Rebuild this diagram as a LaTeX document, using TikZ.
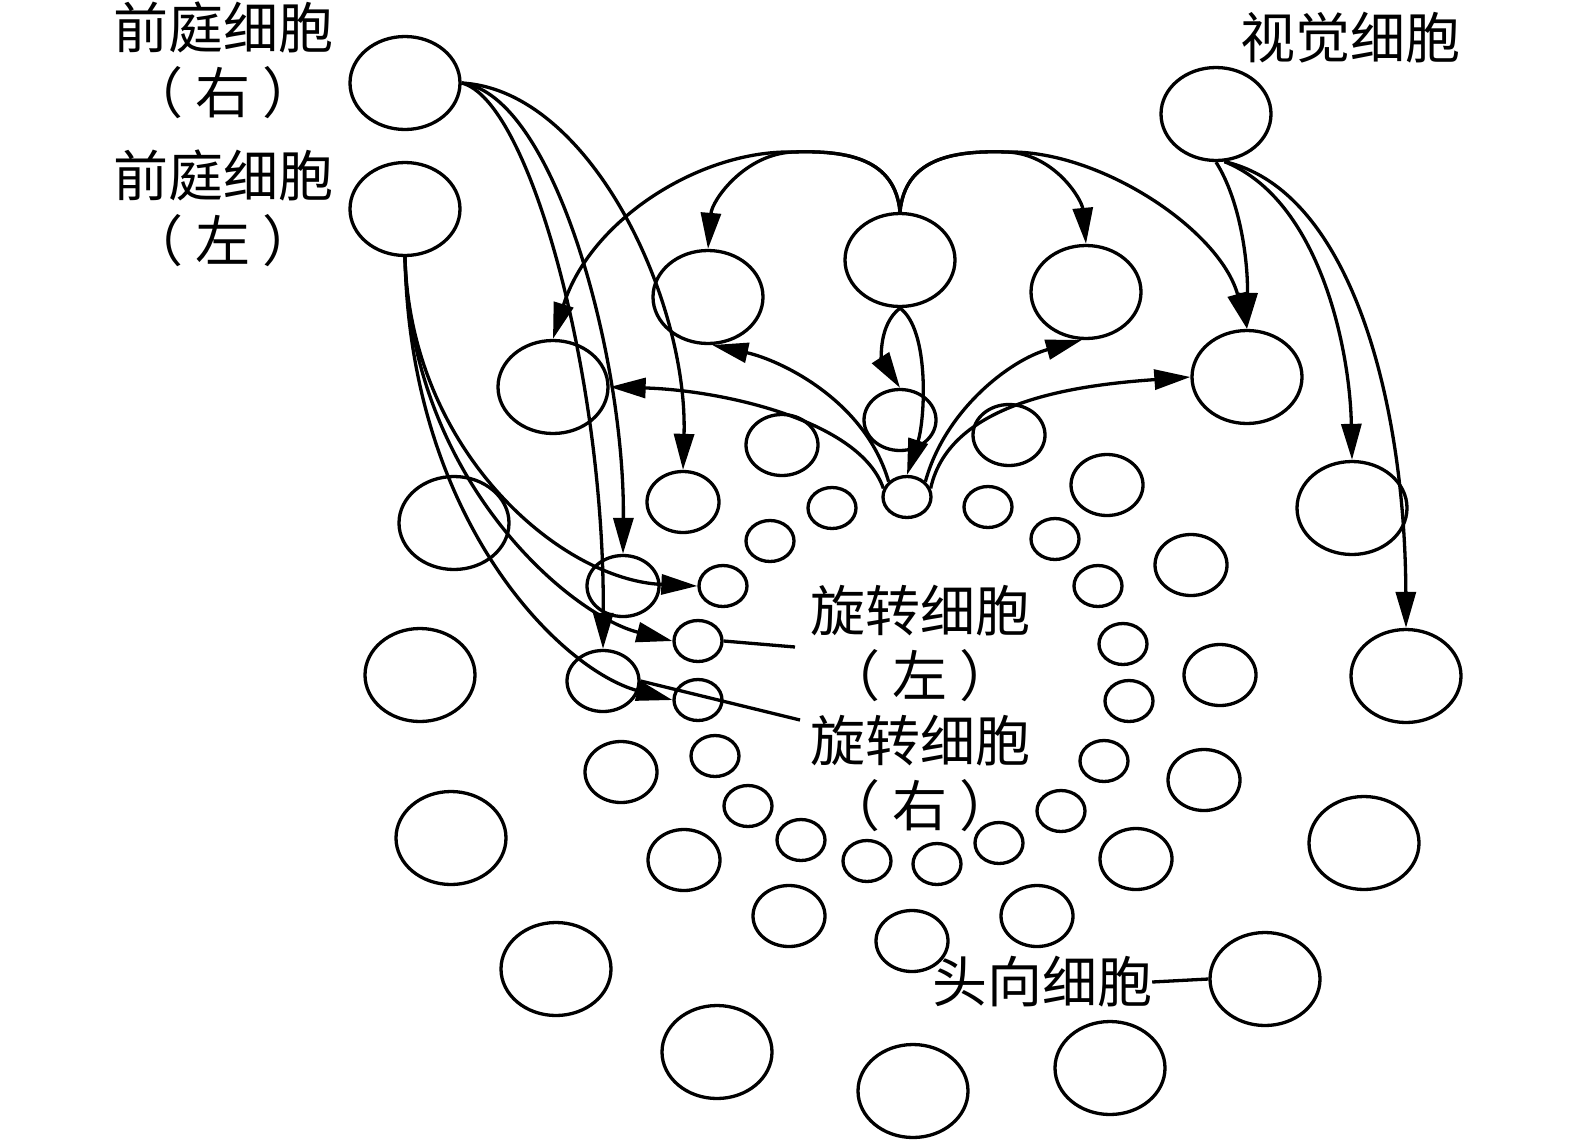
\documentclass[tikz,border=0pt]{standalone}
\usepackage{fontspec}
\newfontfamily\cjk{Noto Sans CJK SC}
\usetikzlibrary{shapes.geometric,arrows.meta}
\begin{document}
\begin{tikzpicture}[x=1pt,y=-1pt,
  cell/.style={ellipse,draw,line width=3.3pt,inner sep=0pt,minimum width=110pt,minimum height=93pt},
  mid/.style={cell,minimum width=72pt,minimum height=61pt},
  sml/.style={cell,minimum width=48pt,minimum height=41pt},
  lbl/.style={font=\cjk\fontsize{55}{65}\selectfont,align=center,inner sep=0pt},
  arr/.style={line width=3.3pt,-{Triangle[length=36pt,width=20pt]}},
  ln/.style={line width=3.3pt}]
\useasboundingbox (0,0) rectangle (1575,1141);
% big cells
\node[cell] (vr) at (405,83) {};
\node[cell] (vl) at (405,209) {};
\node[cell] (vis) at (1216,114) {};
\node[cell] (cb) at (900,260) {};
\node[cell] (b708) at (708,297) {};
\node[cell] (b1086) at (1086,292) {};
\node[cell] (b553) at (553,387) {};
\node[cell] (b1247) at (1247,377) {};
\node[cell] (b454) at (454,523) {};
\node[cell] (b420) at (420,675) {};
\node[cell] (b451) at (451,838) {};
\node[cell] (b556) at (556,969) {};
\node[cell] (b717) at (717,1052) {};
\node[cell] (b913) at (913,1091) {};
\node[cell] (b1110) at (1110,1068) {};
\node[cell] (b1265) at (1265,979) {};
\node[cell] (b1364) at (1364,843) {};
\node[cell] (b1406) at (1406,676) {};
\node[cell] (b1352) at (1352,508) {};
% medium cells
\node[mid] (m683) at (683,502) {};
\node[mid] (m623) at (623,586) {};
\node[mid] (m603) at (603,681) {};
\node[mid] (m621) at (621,772) {};
\node[mid] (m684) at (684,860) {};
\node[mid] (m789) at (789,916) {};
\node[mid] (m912) at (912,941) {};
\node[mid] (m1037) at (1037,916) {};
\node[mid] (m1136) at (1136,859) {};
\node[mid] (m1204) at (1204,780) {};
\node[mid] (m1220) at (1220,675) {};
\node[mid] (m1191) at (1191,565) {};
\node[mid] (m1107) at (1107,485) {};
\node[mid] (m1009) at (1009,435) {};
\node[mid] (m900) at (900,420) {};
\node[mid] (m782) at (782,445) {};
% small cells
\node[sml] (s770) at (770,541) {};
\node[sml] (s832) at (832,508) {};
\node[sml] (t907) at (907,497) {};
\node[sml] (s988) at (988,507) {};
\node[sml] (s1055) at (1055,539) {};
\node[sml] (s1098) at (1098,586) {};
\node[sml] (s1123) at (1123,644) {};
\node[sml] (s1129) at (1129,701) {};
\node[sml] (s1104) at (1104,761) {};
\node[sml] (s1061) at (1061,811) {};
\node[sml] (s999) at (999,843) {};
\node[sml] (s937) at (937,864) {};
\node[sml] (s867) at (867,861) {};
\node[sml] (s801) at (801,840) {};
\node[sml] (s748) at (748,806) {};
\node[sml] (s715) at (715,756) {};
\node[sml] (s698b) at (698,700) {};
\node[sml] (s698a) at (698,641) {};
\node[sml] (s723) at (723,586) {};
% labels
\node[lbl] (lvr) at (223,60) {前庭细胞\\（\hspace{12pt}右\hspace{12pt}）};
\node[lbl] (lvl) at (223,208) {前庭细胞\\（\hspace{12pt}左\hspace{12pt}）};
\node[lbl] (lvis) at (1350,38) {视觉细胞};
\node[lbl] (lrl) at (920,643) {旋转细胞\\（\hspace{12pt}左\hspace{12pt}）};
\node[lbl] (lrr) at (920,773) {旋转细胞\\（\hspace{12pt}右\hspace{12pt}）};
\node[lbl] (hx) at (1042,982) {头向细胞};
% vestibular right
\draw[arr] (vr.east) .. controls (590,90) and (688,300) .. (m683.north);
\draw[arr] (vr.east) .. controls (555,95) and (625,360) .. (m623.north);
\draw[arr] (vr.east) .. controls (530,100) and (605,380) .. (m603.north);
% vestibular left
\draw[arr] (vl.south) .. controls (410,450) and (560,580) .. (s723.west);
\draw[arr] (vl.south) .. controls (410,480) and (570,615) .. (s698a.west);
\draw[arr] (vl.south) .. controls (410,520) and (560,670) .. (s698b.west);
% visual
\draw[arr] (vis.south) .. controls (1240,200) and (1248,260) .. (b1247.north);
\draw[arr] (vis.-80) .. controls (1320,200) and (1350,350) .. (b1352.north);
\draw[arr] (vis.-80) .. controls (1350,190) and (1405,400) .. (b1406.north);
% arches from the centre cell
\draw[arr] (cb.north) .. controls (895,160) and (850,150) .. (793,152) .. controls (745,154) and (712,200) .. (b708.north);
\draw[arr] (cb.north) .. controls (895,160) and (850,150) .. (793,152) .. controls (700,150) and (590,220) .. (b553.north);
\draw[arr] (cb.north) .. controls (905,160) and (950,150) .. (1007,152) .. controls (1055,154) and (1082,200) .. (b1086.north);
\draw[arr] (cb.north) .. controls (905,160) and (950,150) .. (1007,152) .. controls (1100,150) and (1220,230) .. (b1247.north);
\draw[arr] (cb.south) .. controls (878,325) and (882,360) .. (m900.north);
\draw[arr] (cb.south) .. controls (930,330) and (925,420) .. (t907.north);
% fan from the small bottom cell
\draw[arr] (t907.160) .. controls (860,420) and (720,390) .. (b553.east);
\draw[arr] (t907.140) .. controls (865,400) and (780,360) .. (b708.-85);
\draw[arr] (t907.40) .. controls (945,410) and (1010,360) .. (b1086.-95);
\draw[arr] (t907.20) .. controls (950,400) and (1080,385) .. (b1247.west);
% label lines
\coordinate (rl) at (795,647);
\coordinate (rr) at (800,720);
\draw[ln] (s698a.east) -- (rl);
\draw[ln] (m603.east) -- (rr);
\draw[ln] (hx.east) -- (b1265.west);
\end{tikzpicture}
\end{document}
